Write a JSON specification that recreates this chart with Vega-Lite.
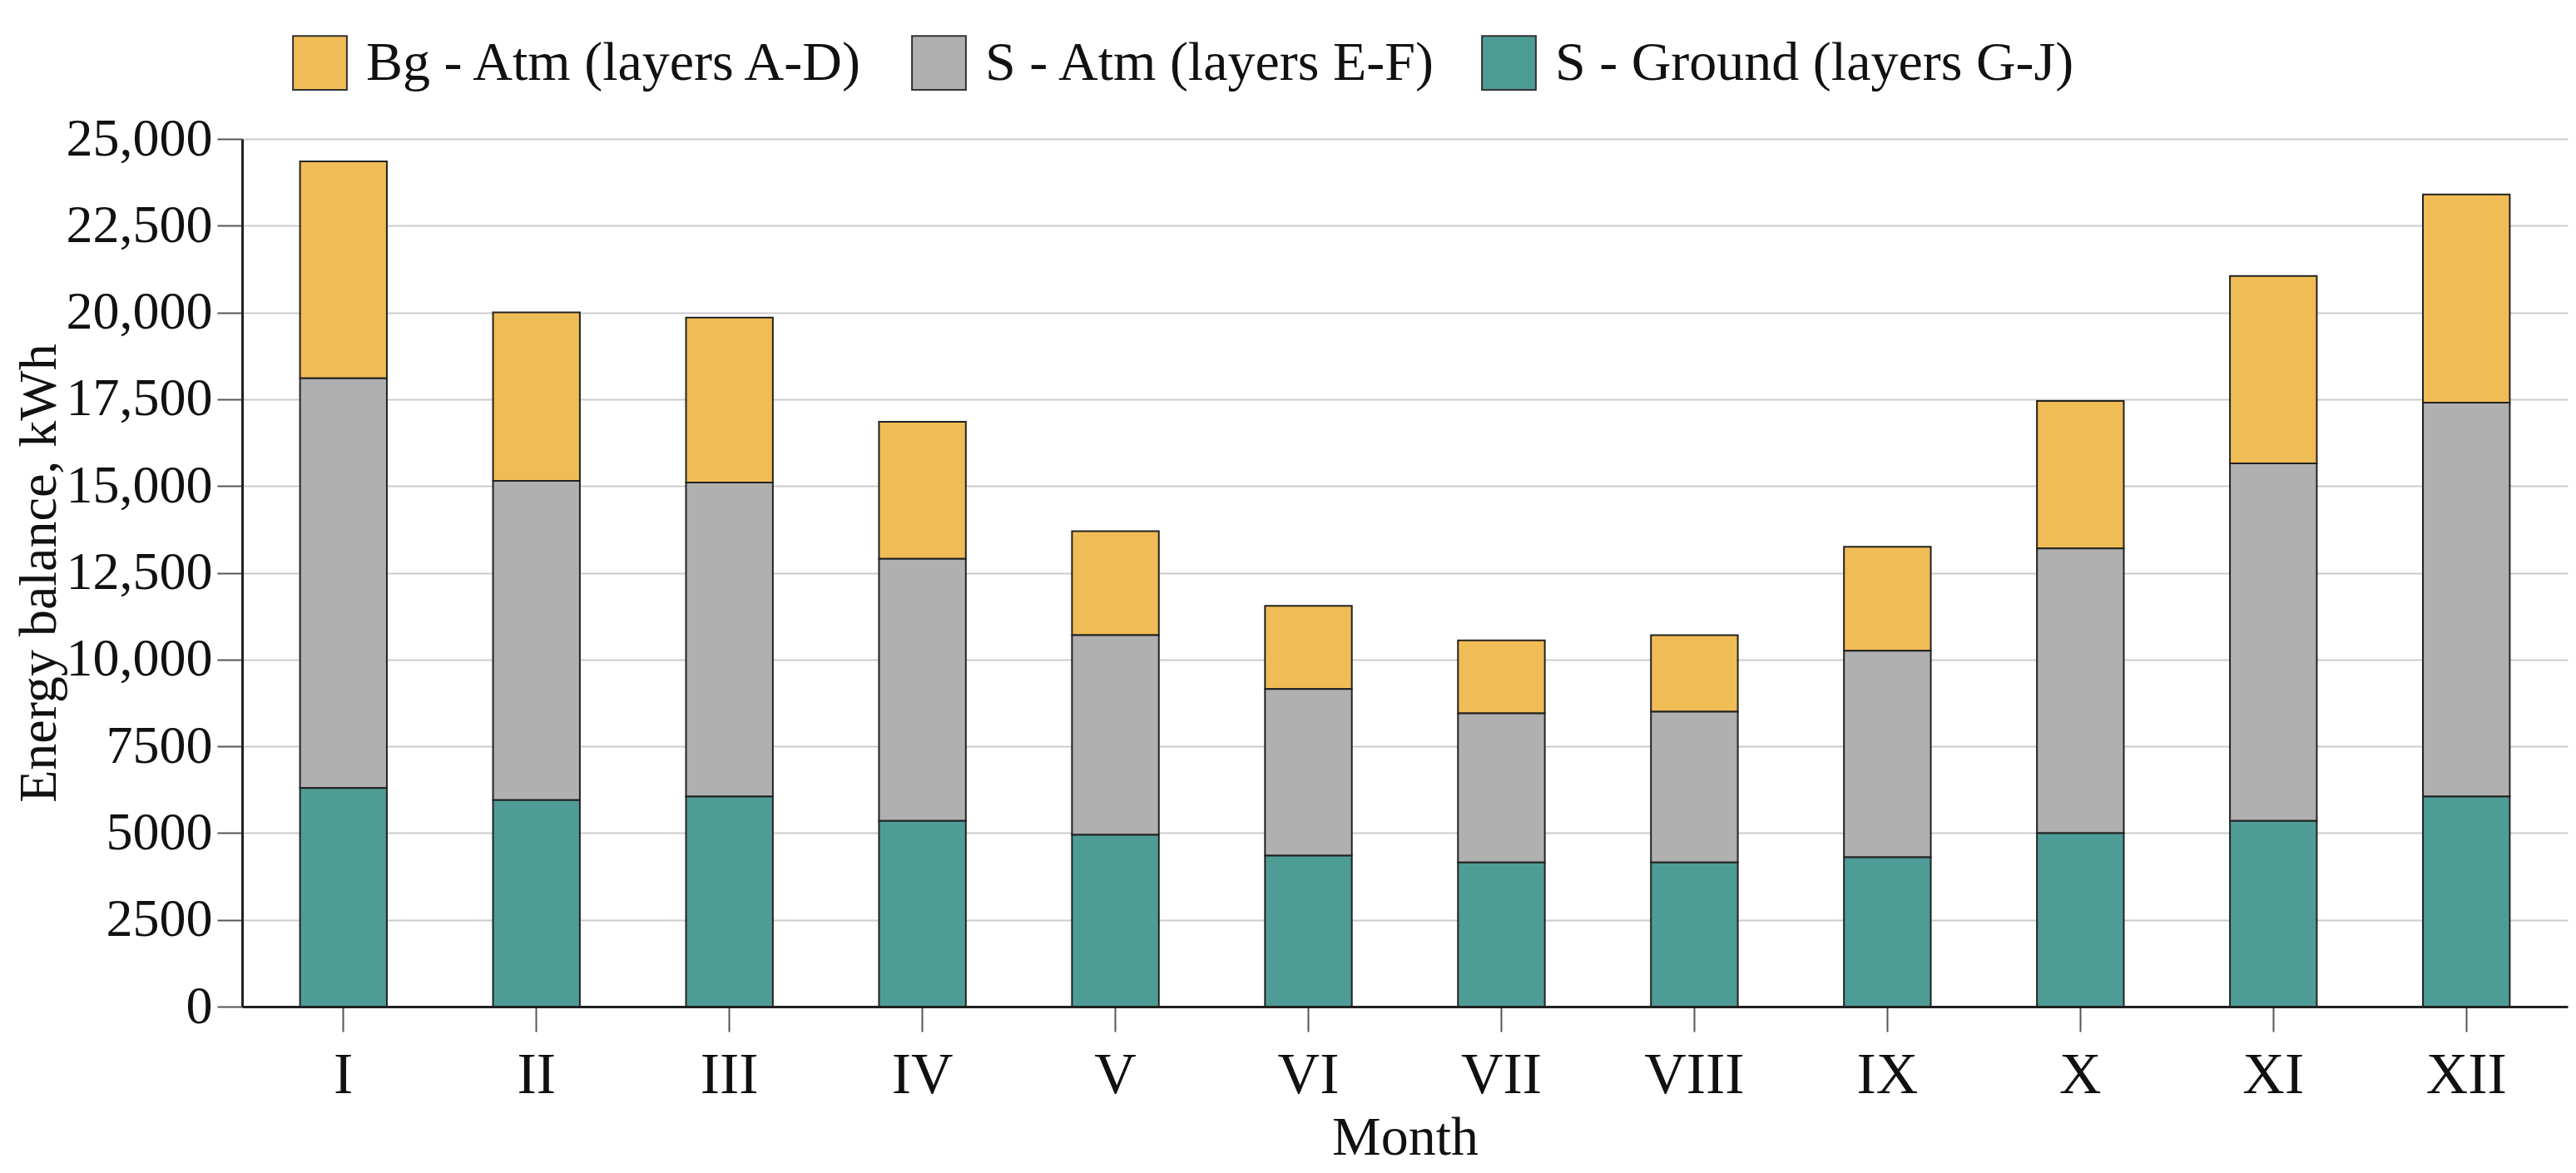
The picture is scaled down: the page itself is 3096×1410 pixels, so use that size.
{
"$schema":"https://vega.github.io/schema/vega-lite/v6.json",
"width":3096,"height":1410,
"autosize":{"type":"fit","contains":"padding"},
"padding":{"left":15,"right":10,"top":135,"bottom":10},
"background":"white",
"config":{"font":"Liberation Serif","view":{"stroke":null}},
"data":{"values":[
{"m":"I","s":"Bg - Atm (layers A-D)","o":3,"v":6250},{"m":"I","s":"S - Atm (layers E-F)","o":2,"v":11800},{"m":"I","s":"S - Ground (layers G-J)","o":1,"v":6300},
{"m":"II","s":"Bg - Atm (layers A-D)","o":3,"v":4850},{"m":"II","s":"S - Atm (layers E-F)","o":2,"v":9200},{"m":"II","s":"S - Ground (layers G-J)","o":1,"v":5950},
{"m":"III","s":"Bg - Atm (layers A-D)","o":3,"v":4750},{"m":"III","s":"S - Atm (layers E-F)","o":2,"v":9050},{"m":"III","s":"S - Ground (layers G-J)","o":1,"v":6050},
{"m":"IV","s":"Bg - Atm (layers A-D)","o":3,"v":3950},{"m":"IV","s":"S - Atm (layers E-F)","o":2,"v":7550},{"m":"IV","s":"S - Ground (layers G-J)","o":1,"v":5350},
{"m":"V","s":"Bg - Atm (layers A-D)","o":3,"v":3000},{"m":"V","s":"S - Atm (layers E-F)","o":2,"v":5750},{"m":"V","s":"S - Ground (layers G-J)","o":1,"v":4950},
{"m":"VI","s":"Bg - Atm (layers A-D)","o":3,"v":2400},{"m":"VI","s":"S - Atm (layers E-F)","o":2,"v":4800},{"m":"VI","s":"S - Ground (layers G-J)","o":1,"v":4350},
{"m":"VII","s":"Bg - Atm (layers A-D)","o":3,"v":2100},{"m":"VII","s":"S - Atm (layers E-F)","o":2,"v":4300},{"m":"VII","s":"S - Ground (layers G-J)","o":1,"v":4150},
{"m":"VIII","s":"Bg - Atm (layers A-D)","o":3,"v":2200},{"m":"VIII","s":"S - Atm (layers E-F)","o":2,"v":4350},{"m":"VIII","s":"S - Ground (layers G-J)","o":1,"v":4150},
{"m":"IX","s":"Bg - Atm (layers A-D)","o":3,"v":3000},{"m":"IX","s":"S - Atm (layers E-F)","o":2,"v":5950},{"m":"IX","s":"S - Ground (layers G-J)","o":1,"v":4300},
{"m":"X","s":"Bg - Atm (layers A-D)","o":3,"v":4250},{"m":"X","s":"S - Atm (layers E-F)","o":2,"v":8200},{"m":"X","s":"S - Ground (layers G-J)","o":1,"v":5000},
{"m":"XI","s":"Bg - Atm (layers A-D)","o":3,"v":5400},{"m":"XI","s":"S - Atm (layers E-F)","o":2,"v":10300},{"m":"XI","s":"S - Ground (layers G-J)","o":1,"v":5350},
{"m":"XII","s":"Bg - Atm (layers A-D)","o":3,"v":6000},{"m":"XII","s":"S - Atm (layers E-F)","o":2,"v":11350},{"m":"XII","s":"S - Ground (layers G-J)","o":1,"v":6050}
]},
"mark":{"type":"bar","stroke":"#222","strokeWidth":2},
"encoding":{
"x":{"field":"m","type":"nominal","sort":null,"title":"Month","scale":{"paddingInner":0.55,"paddingOuter":0.3},
 "axis":{"labelAngle":0,"labelFontSize":70,"titleFontSize":66,"titleFontWeight":"normal","labelColor":"#111","titleColor":"#111","domainColor":"#222","domainWidth":3,"tickColor":"#555","tickWidth":2,"tickSize":30,"labelPadding":18,"titlePadding":8}},
"y":{"field":"v","type":"quantitative","aggregate":"sum","stack":"zero","title":"Energy balance, kWh","scale":{"domain":[0,25000],"nice":false},
 "axis":{"values":[0,2500,5000,7500,10000,12500,15000,17500,20000,22500,25000],"labelExpr":"datum.value>=10000?format(datum.value,','):format(datum.value,'d')","labelFontSize":64,"titleFontSize":64,"titleFontWeight":"normal","labelColor":"#111","titleColor":"#111","domainColor":"#222","domainWidth":3,"tickColor":"#555","tickWidth":2,"tickSize":30,"labelPadding":6,"gridColor":"#ccc","gridWidth":2,"titlePadding":12}},
"color":{"field":"s","type":"nominal","title":null,
 "scale":{"domain":["Bg - Atm (layers A-D)","S - Atm (layers E-F)","S - Ground (layers G-J)"],"range":["#F0BC55","#B0B0B0","#4E9C96"]},
 "legend":{"orient":"none","direction":"horizontal","legendX":60,"legendY":-125,"labelFontSize":66,"labelColor":"#111","symbolType":"square","symbolSize":4200,"symbolStrokeColor":"#333","symbolStrokeWidth":2,"columnPadding":50,"labelOffset":22,"labelLimit":1000}},
"order":{"field":"o","type":"quantitative"}
}
}
